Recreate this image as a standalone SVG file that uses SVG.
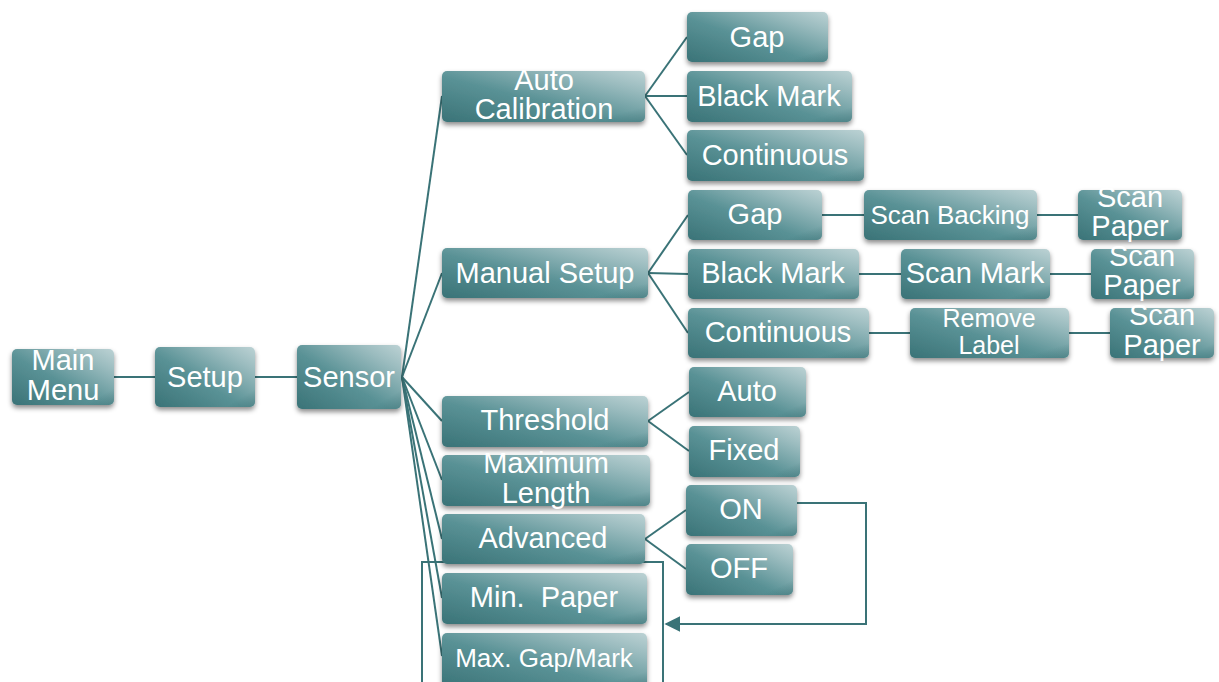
<svg xmlns="http://www.w3.org/2000/svg" width="1219" height="682" viewBox="0 0 1219 682">
<defs>
  <linearGradient id="g" x1="0" y1="1" x2="1" y2="0">
    <stop offset="0" stop-color="#3a7377"/>
    <stop offset="0.45" stop-color="#5a9296"/>
    <stop offset="0.8" stop-color="#9bbcbf"/>
    <stop offset="1" stop-color="#bcd2d4"/>
  </linearGradient>
  <linearGradient id="edge" x1="0" y1="0" x2="1" y2="1">
    <stop offset="0.85" stop-color="#2f6266" stop-opacity="0"/>
    <stop offset="1" stop-color="#2f6266" stop-opacity="0.35"/>
  </linearGradient>
  <filter id="sh" x="-10%" y="-20%" width="120%" height="150%">
    <feDropShadow dx="0" dy="3" stdDeviation="2.5" flood-color="#000" flood-opacity="0.45"/>
  </filter>
  <marker id="arr" viewBox="0 0 10 10" refX="9" refY="5" markerWidth="16" markerHeight="16" markerUnits="userSpaceOnUse" orient="auto">
    <path d="M0,0 L10,5 L0,10 z" fill="#3a7377"/>
  </marker>
</defs>
<style>
  .box{fill:url(#g);filter:url(#sh);}
  .ed{fill:url(#edge);}
  .t{font-family:"Liberation Sans",Arial,sans-serif;font-size:29px;fill:#fff;text-anchor:middle;}
  .s{font-size:26px;}
  .c line,.c polyline,.c rect{stroke:#3a7377;stroke-width:2;fill:none;}
</style>

<g class="c" id="connectors">
  <line x1="114" y1="377" x2="155" y2="377"/>
  <line x1="255" y1="377" x2="297" y2="377"/>
  <line x1="402" y1="377" x2="442" y2="96"/>
  <line x1="402" y1="377" x2="442" y2="273"/>
  <line x1="402" y1="377" x2="442" y2="421"/>
  <line x1="402" y1="377" x2="442" y2="480"/>
  <line x1="402" y1="377" x2="442" y2="539"/>
  <line x1="402" y1="377" x2="442" y2="598"/>
  <line x1="402" y1="377" x2="442" y2="656"/>
  <line x1="645" y1="96" x2="687" y2="37"/>
  <line x1="645" y1="96" x2="687" y2="96"/>
  <line x1="645" y1="96" x2="687" y2="155"/>
  <line x1="648" y1="273" x2="688" y2="215"/>
  <line x1="648" y1="273" x2="688" y2="274"/>
  <line x1="648" y1="273" x2="688" y2="333"/>
  <line x1="822" y1="215" x2="864" y2="215"/>
  <line x1="1037" y1="215" x2="1078" y2="215"/>
  <line x1="859" y1="274" x2="901" y2="274"/>
  <line x1="1050" y1="274" x2="1091" y2="274"/>
  <line x1="869" y1="333" x2="910" y2="333"/>
  <line x1="1069" y1="333" x2="1110" y2="333"/>
  <line x1="648" y1="421" x2="689" y2="392"/>
  <line x1="648" y1="421" x2="689" y2="451"/>
  <line x1="645" y1="539" x2="686" y2="510"/>
  <line x1="645" y1="539" x2="686" y2="569"/>
  <rect x="422" y="562" width="241" height="130"/>
  <polyline points="797,503 866,503 866,624 666,624" marker-end="url(#arr)"/>
</g>

<g id="main-menu"><rect class="box" x="12" y="349" width="102" height="56" rx="5"/><rect class="ed" x="12" y="349" width="102" height="56" rx="5"/>
  <text class="t" x="63" y="370">Main</text><text class="t" x="63" y="400">Menu</text></g>
<g id="setup"><rect class="box" x="155" y="347" width="100" height="60" rx="5"/><rect class="ed" x="155" y="347" width="100" height="60" rx="5"/>
  <text class="t" x="205" y="387">Setup</text></g>
<g id="sensor"><rect class="box" x="297" y="345" width="104" height="64" rx="5"/><rect class="ed" x="297" y="345" width="104" height="64" rx="5"/>
  <text class="t" x="349" y="387">Sensor</text></g>

<g id="auto-calibration"><rect class="box" x="442" y="71" width="203" height="51" rx="5"/><rect class="ed" x="442" y="71" width="203" height="51" rx="5"/>
  <text class="t" x="544" y="90">Auto</text><text class="t" x="544" y="119">Calibration</text></g>
<g id="ac-gap"><rect class="box" x="687" y="12" width="141" height="50" rx="5"/><rect class="ed" x="687" y="12" width="141" height="50" rx="5"/>
  <text class="t" x="757" y="47">Gap</text></g>
<g id="ac-black-mark"><rect class="box" x="687" y="71" width="165" height="51" rx="5"/><rect class="ed" x="687" y="71" width="165" height="51" rx="5"/>
  <text class="t" x="769" y="106">Black Mark</text></g>
<g id="ac-continuous"><rect class="box" x="687" y="130" width="177" height="51" rx="5"/><rect class="ed" x="687" y="130" width="177" height="51" rx="5"/>
  <text class="t" x="775" y="165">Continuous</text></g>

<g id="manual-setup"><rect class="box" x="442" y="248" width="206" height="50" rx="5"/><rect class="ed" x="442" y="248" width="206" height="50" rx="5"/>
  <text class="t" x="545" y="283">Manual Setup</text></g>
<g id="ms-gap"><rect class="box" x="688" y="190" width="134" height="50" rx="5"/><rect class="ed" x="688" y="190" width="134" height="50" rx="5"/>
  <text class="t" x="755" y="224">Gap</text></g>
<g id="scan-backing"><rect class="box" x="864" y="190" width="173" height="50" rx="5"/><rect class="ed" x="864" y="190" width="173" height="50" rx="5"/>
  <text class="t s" x="950" y="224">Scan Backing</text></g>
<g id="scan-paper-1"><rect class="box" x="1078" y="190" width="104" height="50" rx="5"/><rect class="ed" x="1078" y="190" width="104" height="50" rx="5"/>
  <text class="t" x="1130" y="207">Scan</text><text class="t" x="1130" y="236">Paper</text></g>
<g id="ms-black-mark"><rect class="box" x="688" y="249" width="171" height="50" rx="5"/><rect class="ed" x="688" y="249" width="171" height="50" rx="5"/>
  <text class="t" x="773" y="283">Black Mark</text></g>
<g id="scan-mark"><rect class="box" x="901" y="249" width="149" height="50" rx="5"/><rect class="ed" x="901" y="249" width="149" height="50" rx="5"/>
  <text class="t" x="975" y="283">Scan Mark</text></g>
<g id="scan-paper-2"><rect class="box" x="1091" y="249" width="103" height="50" rx="5"/><rect class="ed" x="1091" y="249" width="103" height="50" rx="5"/>
  <text class="t" x="1142" y="266">Scan</text><text class="t" x="1142" y="295">Paper</text></g>
<g id="ms-continuous"><rect class="box" x="688" y="308" width="181" height="50" rx="5"/><rect class="ed" x="688" y="308" width="181" height="50" rx="5"/>
  <text class="t" x="778" y="342">Continuous</text></g>
<g id="remove-label"><rect class="box" x="910" y="308" width="159" height="50" rx="5"/><rect class="ed" x="910" y="308" width="159" height="50" rx="5"/>
  <text class="t" x="989" y="327" style="font-size:25px">Remove</text><text class="t" x="989" y="354" style="font-size:25px">Label</text></g>
<g id="scan-paper-3"><rect class="box" x="1110" y="308" width="104" height="50" rx="5"/><rect class="ed" x="1110" y="308" width="104" height="50" rx="5"/>
  <text class="t" x="1162" y="325">Scan</text><text class="t" x="1162" y="355">Paper</text></g>

<g id="threshold"><rect class="box" x="442" y="396" width="206" height="51" rx="5"/><rect class="ed" x="442" y="396" width="206" height="51" rx="5"/>
  <text class="t" x="545" y="430">Threshold</text></g>
<g id="th-auto"><rect class="box" x="689" y="367" width="117" height="50" rx="5"/><rect class="ed" x="689" y="367" width="117" height="50" rx="5"/>
  <text class="t" x="747" y="401">Auto</text></g>
<g id="th-fixed"><rect class="box" x="689" y="426" width="111" height="51" rx="5"/><rect class="ed" x="689" y="426" width="111" height="51" rx="5"/>
  <text class="t" x="744" y="460">Fixed</text></g>

<g id="maximum-length"><rect class="box" x="442" y="455" width="208" height="51" rx="5"/><rect class="ed" x="442" y="455" width="208" height="51" rx="5"/>
  <text class="t" x="546" y="473">Maximum</text><text class="t" x="546" y="503">Length</text></g>

<g id="advanced"><rect class="box" x="442" y="514" width="203" height="50" rx="5"/><rect class="ed" x="442" y="514" width="203" height="50" rx="5"/>
  <text class="t" x="543" y="548">Advanced</text></g>
<g id="adv-on"><rect class="box" x="686" y="485" width="111" height="51" rx="5"/><rect class="ed" x="686" y="485" width="111" height="51" rx="5"/>
  <text class="t" x="741" y="519">ON</text></g>
<g id="adv-off"><rect class="box" x="686" y="544" width="107" height="51" rx="5"/><rect class="ed" x="686" y="544" width="107" height="51" rx="5"/>
  <text class="t" x="739" y="578">OFF</text></g>

<g id="min-paper"><rect class="box" x="442" y="573" width="205" height="51" rx="5"/><rect class="ed" x="442" y="573" width="205" height="51" rx="5"/>
  <text class="t" x="544" y="607" xml:space="preserve">Min.  Paper</text></g>
<g id="max-gap-mark"><rect class="box" x="442" y="633" width="205" height="55" rx="5"/><rect class="ed" x="442" y="633" width="205" height="55" rx="5"/>
  <text class="t s" x="544" y="667">Max. Gap/Mark</text></g>
</svg>
